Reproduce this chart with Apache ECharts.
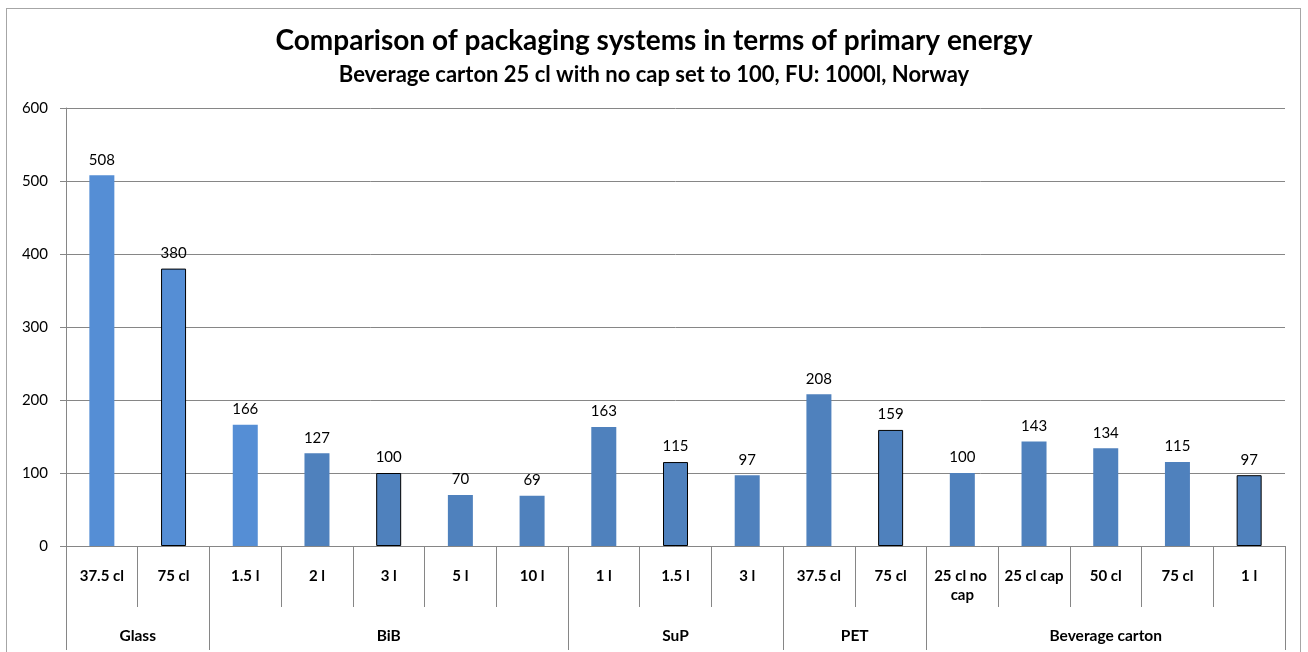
<!DOCTYPE html>
<html>
<head>
<meta charset="utf-8">
<script src="https://cdn.jsdelivr.net/npm/echarts@6/dist/echarts.min.js"></script>
<style>
  html, body { margin: 0; padding: 0; background: #fff; }
  #chart { width: 1308px; height: 652px; position: absolute; left: 0; top: 0; }
  #frame { position: absolute; left: 6px; top: 8px; width: 1295px; height: 700px;
           border: 1px solid #a6a6a6; pointer-events: none; box-sizing: border-box; }
</style>
</head>
<body>
<div id="chart"></div>
<div id="frame"></div>
<script>
// ---- data ----
const categories = ['37.5 cl', '75 cl', '1.5 l', '2 l', '3 l', '5 l', '10 l', '1 l', '1.5 l', '3 l',
                    '37.5 cl', '75 cl', '25 cl no cap', '25 cl cap', '50 cl', '75 cl', '1 l'];
const values = [508, 380, 166, 127, 100, 70, 69, 163, 115, 97, 208, 159, 100, 143, 134, 115, 97];
const groups = ['Glass', 'BiB', 'SuP', 'PET', 'Beverage carton'];
const groupSizes = [2, 5, 3, 2, 5];
const yTicks = [0, 100, 200, 300, 400, 500, 600];
const titleText = 'Comparison of packaging systems in terms of primary energy';
const subtitleText = 'Beverage carton 25 cl with no cap set to 100, FU: 1000l, Norway';

// ---- styling (kept apart from data) ----
const lightIdx = [0, 1, 2];
const outlinedIdx = [1, 4, 8, 11, 16];
const FONT = 'Lato';

// half-category slots for the group axis
const nSlots = categories.length * 2 + 1;
const groupSlots = new Array(nSlots).fill('');
const boundarySlots = [0];
let start = 0;
groups.forEach((g, i) => {
  const center = start * 2 + groupSizes[i];
  groupSlots[center] = g;
  start += groupSizes[i];
  boundarySlots.push(start * 2);
});

const seriesData = values.map((v, i) => ({
  value: v,
  itemStyle: {
    color: lightIdx.includes(i) ? '#558ED5' : '#4F81BD',
    borderColor: outlinedIdx.includes(i) ? '#000' : 'transparent',
    borderWidth: outlinedIdx.includes(i) ? 1 : 0
  }
}));

const chart = echarts.init(document.getElementById('chart'), null, { renderer: 'canvas' });
chart.setOption({
  animation: false,
  backgroundColor: '#fff',
  textStyle: { fontFamily: FONT },
  title: [
    { text: titleText, left: 'center', top: 22,
      textStyle: { fontFamily: FONT, fontWeight: 'bold', fontSize: 28, color: '#000' } },
    { text: subtitleText, left: 'center', top: 59,
      textStyle: { fontFamily: FONT, fontWeight: 'bold', fontSize: 22, color: '#000' } }
  ],
  grid: { left: 66, right: 23, top: 108, bottom: 106, containLabel: false },
  xAxis: [
    {
      type: 'category', data: categories, boundaryGap: true, position: 'bottom', offset: 0,
      axisLine: { show: true, lineStyle: { color: '#868686', width: 1 } },
      axisTick: { show: true, interval: 0, length: 61, lineStyle: { color: '#868686' } },
      axisLabel: { interval: 0, margin: 21, color: '#000', fontWeight: 'bold', fontSize: 15,
                   fontFamily: FONT, width: 70, overflow: 'break', lineHeight: 19 }
    },
    {
      type: 'category', data: groupSlots, boundaryGap: false, position: 'bottom', offset: 0,
      axisLine: { show: false },
      axisTick: { show: true, length: 104, lineStyle: { color: '#868686' },
                  interval: (idx) => boundarySlots.includes(idx) },
      axisLabel: { margin: 82, color: '#000', fontWeight: 'bold', fontSize: 15.5, fontFamily: FONT,
                   interval: (idx, val) => val !== '' }
    }
  ],
  yAxis: {
    type: 'value', min: yTicks[0], max: yTicks[yTicks.length - 1], interval: yTicks[1] - yTicks[0],
    axisLine: { show: true, lineStyle: { color: '#868686' } },
    axisTick: { show: true, length: 6, lineStyle: { color: '#868686' } },
    splitLine: { show: true, lineStyle: { color: '#868686', width: 1 } },
    axisLabel: { margin: 18, color: '#000', fontSize: 15, fontFamily: FONT }
  },
  series: [{
    type: 'bar', xAxisIndex: 0, yAxisIndex: 0, barWidth: 25,
    data: seriesData,
    label: { show: true, position: 'top', distance: 8, color: '#000', fontSize: 15, fontFamily: FONT }
  }]
});
</script>
</body>
</html>
